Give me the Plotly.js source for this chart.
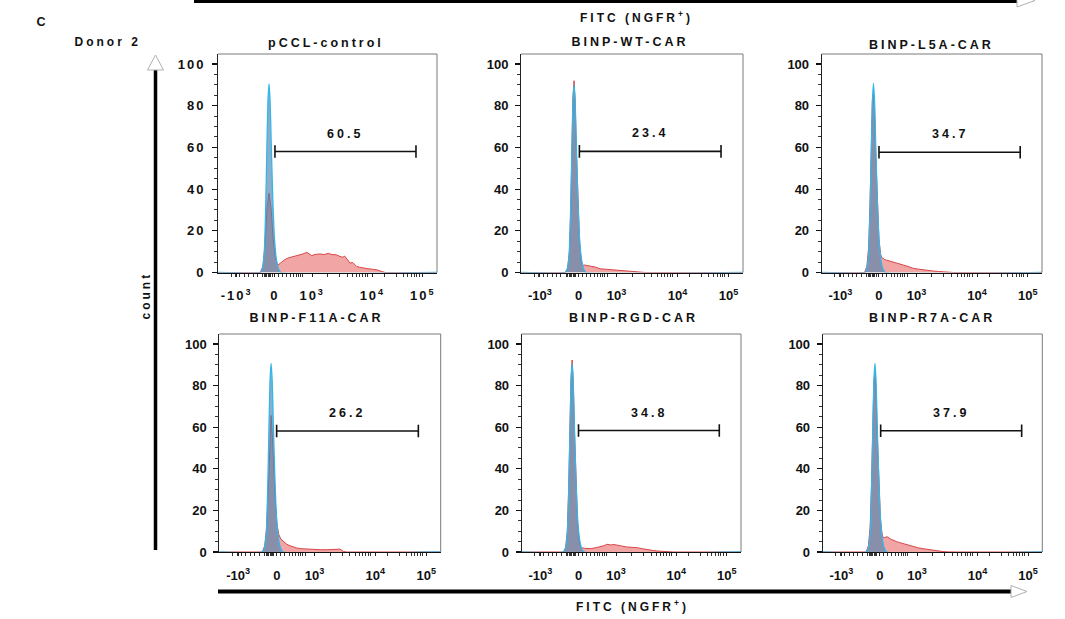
<!DOCTYPE html>
<html>
<head>
<meta charset="utf-8">
<script src="https://cdn.plot.ly/plotly-3.0.1.min.js"></script>
<style>
html,body{margin:0;padding:0;background:#fff;}
#chart{width:1065px;height:619px;}
.main-svg .xtick text,.main-svg .ytick text{letter-spacing:2px;}
.main-svg .annotation-text{letter-spacing:3px;}
</style>
</head>
<body>
<div id="chart"></div>
<script>
// ---------- DATA ----------
const panelTitles = ["pCCL-control","BINP-WT-CAR","BINP-L5A-CAR","BINP-F11A-CAR","BINP-RGD-CAR","BINP-R7A-CAR"];
const gateLabels = ["60.5","23.4","34.7","26.2","34.8","37.9"];
const gateStart = [26.0, 26.3, 26.0, 25.9, 25.9, 26.4];
const gateEnd   = [90.4, 90.1, 90.1, 89.9, 90.1, 90.6];
const gateLevel = [58.0, 58.1, 57.7, 58.2, 58.4, 58.3];

const xTickVals = [8.5, 26, 43, 70.5, 93.5];
const xTickText = ["-10<sup>3</sup>","0","10<sup>3</sup>","10<sup>4</sup>","10<sup>5</sup>"];
const xMinorTicks = [6,8,10,12,14,16,18,20.5,21.1,21.7,22.3,22.9,23.5,24.1,24.7,27.5,29.5,31.5,33,34.5,35.7,36.8,37.8,38.8,
                     50,55.5,59,61.5,63.3,64.8,66,67.2,68.3,76,81.5,84.5,86.7,88.3,89.7,90.8,91.8];
const yTickVals = [0,20,40,60,80,100];

// sample (red) histograms
const red1X = [0,19.3,20.5,21.5,22.3,23.3,24.3,25.2,26.2,27.2,28.5,30.5,32.1,33.5,35.2,37,38.8,40.5,41.5,42.8,44.5,46.5,48.5,50.4,52,54,55.7,57,57.8,58.8,60.3,61.5,63.3,64.8,66.4,68.5,70.5,72.5,74.5,76.3,100];
const red1Y = [0,0,3,14,30,38,30,16,7,3.4,4.5,6.2,7.0,7.4,7.7,8.3,8.9,9.7,8.8,8.1,8.7,8.9,8.6,9.2,8.6,8.5,7.7,7.3,7.9,6.5,4.5,4.8,2.9,2.5,2.1,1.8,1.6,1.3,0.6,0,0];
const red2X = [0,19.9,21.0,21.8,22.4,22.9,23.4,23.9,24.4,24.9,25.6,26.4,27.2,27.8,28.5,30,31.8,33.5,35.6,37.8,40.1,43,46,48.5,50.5,53,56,60,100];
const red2Y = [0,0,2,10,30,60,84,92,82,60,34,14,5,3.4,3.6,3.4,3.0,2.6,1.8,1.6,1.3,1.1,1.0,0.8,0.5,0.1,0,0,0];
const red3X = [0,19.5,20.5,21.3,21.9,22.5,23.0,23.5,24.0,24.5,25.2,26.0,26.7,27.2,27.9,28.5,29.5,31,32.5,34,35.5,37,38.6,40,41.6,44,46.2,48.5,50.7,53,55.3,57.5,59.8,100];
const red3Y = [0,0,3,12,32,60,82,86,78,58,34,16,9,7.2,6.8,6.2,5.9,5.5,5.1,4.6,4.0,3.6,3.1,2.6,2.0,1.6,1.2,1.0,0.7,0.5,0.3,0.1,0,0];
const red4X = [0,19.4,20.5,21.4,22.2,22.8,23.4,24.0,24.7,25.4,26.1,26.9,27.8,28.9,30.4,31.9,33.5,35,37,39.5,42,45.5,49,53,54.5,56,57.5,100];
const red4Y = [0,0,3,12,32,55,65.7,55,36,22,13,8.3,6.2,5.1,3.8,3.0,2.4,1.9,1.6,1.4,1.2,1.1,1.1,1.1,1.4,0.3,0,0];
const red5X = [0,19.0,20.0,20.8,21.4,22.0,22.5,23.0,23.5,24.0,24.7,25.5,26.3,27.0,28.5,31.2,33.5,35.8,37.5,38.8,40.5,42,43.4,45.5,47.9,50,52.5,55,57.1,59.5,61.7,64,66.2,69.2,100];
const red5Y = [0,0,2,10,30,60,84,92.3,82,60,34,14,5,2.1,1.8,1.6,2.0,2.4,3.0,3.7,3.4,3.6,3.2,2.9,2.4,2.3,2.1,1.6,1.1,0.8,0.5,0.3,0.2,0,0];
const red6X = [0,19.8,20.8,21.6,22.2,22.8,23.3,23.8,24.3,24.8,25.5,26.3,27.0,27.5,28.2,29.4,30.8,32.1,33.6,35.1,36.6,38.2,39.7,41.2,43.5,45.7,48,50.3,52.5,54.8,57.5,60.9,100];
const red6Y = [0,0,3,12,32,60,82,86,78,58,34,16,9,6.9,7.0,7.3,6.3,5.6,5.0,4.5,4.0,3.4,2.9,2.4,2.0,1.6,1.2,0.8,0.5,0.2,0.05,0,0];

// control (blue) histograms
const blue1X = [0,19.3,20.3,21.1,21.7,22.3,22.8,23.3,23.8,24.3,25.0,25.8,26.7,27.7,28.7,100];
const blue1Y = [0,0,2,9,28,58,82,90.5,82,62,36,16,6,1.5,0,0];
const blue2X = [0,19.9,20.9,21.7,22.3,22.9,23.4,23.9,24.4,24.9,25.6,26.4,27.3,28.3,29.3,100];
const blue2Y = [0,0,2,9,28,58,82,90,82,62,36,16,6,1.5,0,0];
const blue3X = [0,19.5,20.5,21.3,21.9,22.5,23.0,23.5,24.0,24.5,25.2,26.0,26.9,27.9,28.9,100];
const blue3Y = [0,0,2,9,28,58,82,90.7,82,62,36,16,6,1.5,0,0];
const blue4X = [0,19.4,20.4,21.2,21.8,22.4,22.9,23.4,23.9,24.4,25.1,25.9,26.8,27.8,28.8,100];
const blue4Y = [0,0,2,9,28,58,82,90.7,82,62,36,16,6,1.5,0,0];
const blue5X = [0,19.0,20.0,20.8,21.4,22.0,22.5,23.0,23.5,24.0,24.7,25.5,26.4,27.4,28.4,100];
const blue5Y = [0,0,2,9,28,58,82,90.5,82,62,36,16,6,1.5,0,0];
const blue6X = [0,19.8,20.8,21.6,22.2,22.8,23.3,23.8,24.3,24.8,25.5,26.3,27.2,28.2,29.2,100];
const blue6Y = [0,0,2,9,28,58,82,90.7,82,62,36,16,6,1.5,0,0];

const redX = [red1X,red2X,red3X,red4X,red5X,red6X];
const redY = [red1Y,red2Y,red3Y,red4Y,red5Y,red6Y];
const blueX = [blue1X,blue2X,blue3X,blue4X,blue5X,blue6X];
const blueY = [blue1Y,blue2Y,blue3Y,blue4Y,blue5Y,blue6Y];

// ---------- LAYOUT ----------
const W = 1065, H = 619;
const px = v => v / W;
const py = v => 1 - v / H;
const xDomains = [[218,437],[521,743],[821.7,1042],[219.3,440.7],[521.7,741],[822.7,1042.3]];
const yDomains = [[54,272.5],[54,272.5],[54,272.5],[334,552],[334,552],[334,552]];
const titlePos = [[326,43],[630,42],[931,45],[316,318],[633,318],[932,318]];

const FONT = "Liberation Sans, Arial, Helvetica, sans-serif";
const tickFont = {family: FONT, size: 13, color: "#111", weight: "bold"};
const annFont = {family: FONT, size: 12.5, color: "#111", weight: "bold"};

const data = [];
const layout = {
  width: W, height: H,
  margin: {l:0, r:0, t:0, b:0},
  paper_bgcolor: "#fff", plot_bgcolor: "#fff",
  showlegend: false,
  annotations: [], shapes: []
};

for (let i = 0; i < 6; i++) {
  const n = i + 1;
  const xa = n === 1 ? "x" : "x" + n;
  const ya = n === 1 ? "y" : "y" + n;
  const xKey = n === 1 ? "xaxis" : "xaxis" + n;
  const yKey = n === 1 ? "yaxis" : "yaxis" + n;

  data.push({
    type: "scatter", mode: "lines", x: redX[i], y: redY[i], xaxis: xa, yaxis: ya,
    fill: "tozeroy", fillcolor: "rgba(232,100,100,0.58)",
    line: {color: "#d6474a", width: 1, shape: "linear"}, hoverinfo: "skip"
  });
  data.push({
    type: "scatter", mode: "lines", x: blueX[i], y: blueY[i], xaxis: xa, yaxis: ya,
    fill: "tozeroy", fillcolor: "rgba(80,132,175,0.66)",
    line: {color: "#35b6e8", width: 1.3, shape: "spline", smoothing: 0.5}, hoverinfo: "skip"
  });
  data.push({
    type: "scatter", mode: "lines+markers",
    x: [gateStart[i], gateEnd[i]], y: [gateLevel[i], gateLevel[i]],
    xaxis: xa, yaxis: ya,
    line: {color: "#111", width: 1.6},
    marker: {symbol: "line-ns-open", size: 9, line: {color: "#111", width: 1.6}},
    hoverinfo: "skip"
  });

  layout[xKey] = {
    domain: [px(xDomains[i][0]), px(xDomains[i][1])],
    anchor: ya, range: [0, 100], fixedrange: true,
    showgrid: false, zeroline: false,
    showline: true, linecolor: "#111", linewidth: 1,
    tickmode: "array", tickvals: xTickVals, ticktext: xTickText,
    ticks: "outside", ticklen: 3, tickwidth: 1, tickcolor: "#222",
    ticklabelstandoff: 8,
    tickfont: tickFont,
    minor: {tickmode: "array", tickvals: xMinorTicks, ticks: "outside", ticklen: 3, tickwidth: 1, tickcolor: "#333", showgrid: false}
  };
  layout[yKey] = {
    domain: [py(yDomains[i][1]), py(yDomains[i][0])],
    anchor: xa, range: [0, 104.8], fixedrange: true,
    showgrid: false, zeroline: false,
    showline: true, linecolor: "#222", linewidth: 1,
    tickmode: "array", tickvals: yTickVals,
    ticks: "outside", ticklen: 5, tickwidth: 1.2, tickcolor: "#111",
    ticklabelstandoff: 4,
    tickfont: tickFont,
    minor: {dtick: 5, tick0: 0, ticks: "outside", ticklen: 3, tickwidth: 1, tickcolor: "#333", showgrid: false}
  };

  // gray frame (top & right)
  layout.shapes.push({
    type: "path", xref: xa + " domain", yref: ya + " domain",
    path: "M 0,1 L 1,1 L 1,0", line: {color: "#7a7a7a", width: 1}, layer: "above"
  });

  // gate label
  layout.annotations.push({
    xref: xa, yref: ya, x: (gateStart[i] + gateEnd[i]) / 2, y: gateLevel[i],
    text: gateLabels[i], showarrow: false, yshift: 18, font: annFont
  });
  // panel title
  layout.annotations.push({
    xref: "paper", yref: "paper", x: px(titlePos[i][0]), y: py(titlePos[i][1]),
    xanchor: "center", yanchor: "middle", text: panelTitles[i], showarrow: false, font: annFont
  });
}

// global labels
const labFont = {family: FONT, size: 12, color: "#111", weight: "bold"};
layout.annotations.push(
  {xref:"paper", yref:"paper", x:px(42), y:py(22), text:"C", showarrow:false, xanchor:"center", yanchor:"middle",
   font:{family: FONT, size: 12.5, color:"#111", weight:"bold"}},
  {xref:"paper", yref:"paper", x:px(108), y:py(42), text:"Donor 2", showarrow:false, xanchor:"center", yanchor:"middle", font: labFont},
  {xref:"paper", yref:"paper", x:px(146), y:py(296), text:"count", showarrow:false, textangle:-90, xanchor:"center", yanchor:"middle", font: labFont},
  {xref:"paper", yref:"paper", x:px(636), y:py(17), text:"FITC (NGFR<sup>+</sup>)", showarrow:false, xanchor:"center", yanchor:"middle", font: labFont},
  {xref:"paper", yref:"paper", x:px(632), y:py(606), text:"FITC (NGFR<sup>+</sup>)", showarrow:false, xanchor:"center", yanchor:"middle", font: labFont}
);

// axis arrows
layout.shapes.push(
  {type:"line", xref:"paper", yref:"paper", x0:px(155.5), x1:px(155.5), y0:py(69), y1:py(550), line:{color:"#000", width:3.5}},
  {type:"path", xref:"paper", yref:"paper",
   path:`M ${px(155.5)},${py(55)} L ${px(147.5)},${py(70)} L ${px(163.5)},${py(70)} Z`,
   fillcolor:"#fff", line:{color:"#b0b0b0", width:1}},
  {type:"line", xref:"paper", yref:"paper", x0:px(218), x1:px(1011), y0:py(591.5), y1:py(591.5), line:{color:"#000", width:4}},
  {type:"path", xref:"paper", yref:"paper",
   path:`M ${px(1011)},${py(585.5)} L ${px(1027)},${py(591.5)} L ${px(1011)},${py(597.5)} Z`,
   fillcolor:"#fff", line:{color:"#b0b0b0", width:1}},
  {type:"line", xref:"paper", yref:"paper", x0:px(194), x1:px(1017), y0:py(1), y1:py(1), line:{color:"#000", width:4}},
  {type:"path", xref:"paper", yref:"paper",
   path:`M ${px(1017)},${py(-6)} L ${px(1035)},${py(0.5)} L ${px(1017)},${py(7)} Z`,
   fillcolor:"#fff", line:{color:"#b0b0b0", width:1}}
);

Plotly.newPlot("chart", data, layout, {staticPlot: true, displayModeBar: false});
</script>
</body>
</html>
